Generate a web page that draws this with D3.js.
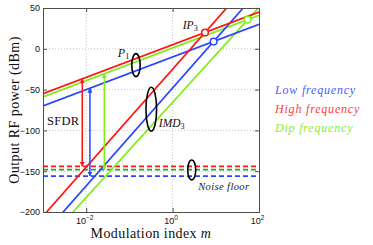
<!DOCTYPE html>
<html><head><meta charset="utf-8">
<script src="https://cdn.jsdelivr.net/npm/d3@7"></script>
<style>body{margin:0;background:#fff}svg{display:block}</style>
</head><body><svg id="c" width="373" height="245"></svg>
<script>
// ---- data ----
const seriesNames = ["Low frequency", "High frequency", "Dip frequency"];
const mEnds = [1e-3, 1e2];                       // m at which the line end values are given
const p1Ends = [[-70, 30], [-55, 45], [-59, 41]];          // fundamental P1 (dBm)
const imd3Ends = [[-228, 72], [-205, 95], [-240.5, 51]];   // IMD3 (dBm)
const noiseFloor = [-156, -144, -148];                      // dBm
const sfdrM = [0.0122, 0.0081, 0.0263];                     // m of SFDR arrows
const xTicks = [1e-2, 1e0, 1e2];
const xTickExp = ["\u22122", "0", "2"];
const yTicks = [-200, -150, -100, -50, 0, 50];
const ellipseAt = [[0.142, -20], [0.321, -74], [2.77, -148.5]];
const labelAt = {P1: [0.054, -10], IP3: [1.72, 24], IMD3: [0.48, -96], noise: [3.9, -173], SFDR: [0.00124, -93]};

// ---- styles ----
const lineColors = ["#2a45ff", "#ff1414", "#7fee12"];
const noiseColors = ["#2a45ff", "#ff1414", "#22a52a"];
const legendColors = ["#4a5cff", "#ff3a3a", "#86ee30"];
const W = 373, H = 245, L = 43, R = 259, T = 8, B = 212;

const svg = d3.select("#c");
const x = d3.scaleLog().domain([1e-3, 1e2]).range([L, R]);
const y = d3.scaleLinear().domain([-200, 50]).range([B, T]);

svg.append("defs").append("clipPath").attr("id", "clip")
  .append("rect").attr("x", L).attr("y", T).attr("width", R - L).attr("height", B - T);

// grid
const grid = svg.append("g").attr("stroke", "#b5b5b5").attr("stroke-width", 0.8).attr("stroke-dasharray", "1,2");
grid.selectAll("line.gx").data(xTicks.filter(d => d > 1e-3 && d < 1e2)).join("line")
  .attr("x1", d => x(d)).attr("x2", d => x(d)).attr("y1", T).attr("y2", B);
grid.selectAll("line.gy").data(yTicks.filter(d => d > -200 && d < 50)).join("line")
  .attr("y1", d => y(d)).attr("y2", d => y(d)).attr("x1", L).attr("x2", R);

const plot = svg.append("g").attr("clip-path", "url(#clip)");

// noise floors
plot.selectAll("line.nf").data(noiseFloor).join("line")
  .attr("x1", L).attr("x2", R).attr("y1", d => y(d)).attr("y2", d => y(d))
  .attr("stroke", (d, i) => noiseColors[i]).attr("stroke-width", 1.8).attr("stroke-dasharray", "5,3");

// lines
const lineGen = d3.line().x(d => x(d[0])).y(d => y(d[1]));
const order = [2, 0, 1];
order.forEach(i => {
  plot.append("path").attr("d", lineGen([[mEnds[0], p1Ends[i][0]], [mEnds[1], p1Ends[i][1]]]))
    .attr("stroke", lineColors[i]).attr("stroke-width", 1.7).attr("fill", "none");
  plot.append("path").attr("d", lineGen([[mEnds[0], imd3Ends[i][0]], [mEnds[1], imd3Ends[i][1]]]))
    .attr("stroke", lineColors[i]).attr("stroke-width", 1.7).attr("fill", "none");
});

// helpers in log space
const lm0 = Math.log10(mEnds[0]), lm1 = Math.log10(mEnds[1]);
const valAt = (ends, m) => ends[0] + (ends[1] - ends[0]) * (Math.log10(m) - lm0) / (lm1 - lm0);

// IP3 circles
order.forEach(i => {
  const s1 = (p1Ends[i][1] - p1Ends[i][0]) / (lm1 - lm0);
  const s3 = (imd3Ends[i][1] - imd3Ends[i][0]) / (lm1 - lm0);
  const lm = lm0 + (p1Ends[i][0] - imd3Ends[i][0]) / (s3 - s1);
  const m = Math.pow(10, lm);
  plot.append("circle").attr("cx", x(m)).attr("cy", y(valAt(p1Ends[i], m))).attr("r", 3.3)
    .attr("fill", "#fff").attr("stroke", lineColors[i]).attr("stroke-width", 1.5);
});

// SFDR arrows
const defs = svg.select("defs");
lineColors.forEach((c, i) => {
  defs.append("marker").attr("id", "ah" + i).attr("viewBox", "0 0 10 10").attr("refX", 9).attr("refY", 5)
    .attr("markerWidth", 5).attr("markerHeight", 5).attr("markerUnits", "userSpaceOnUse").attr("orient", "auto-start-reverse")
    .append("path").attr("d", "M0,0L10,5L0,10z").attr("fill", c);
});
[1, 0, 2].forEach(i => {
  const m = sfdrM[i];
  plot.append("line").attr("x1", x(m)).attr("x2", x(m))
    .attr("y1", y(noiseFloor[i])).attr("y2", y(valAt(p1Ends[i], m)))
    .attr("stroke", lineColors[i]).attr("stroke-width", 1.5)
    .attr("marker-start", `url(#ah${i})`).attr("marker-end", `url(#ah${i})`);
});

// ellipses
const ellR = [[4.2, 11.5], [5.3, 22], [4, 10]];
svg.selectAll("ellipse").data(ellipseAt).join("ellipse")
  .attr("cx", d => x(d[0])).attr("cy", d => y(d[1]))
  .attr("rx", (d, i) => ellR[i][0]).attr("ry", (d, i) => ellR[i][1])
  .attr("fill", "none").attr("stroke", "#000").attr("stroke-width", 1.6);

// annotation labels
const serif = "'Liberation Serif', 'DejaVu Serif', serif";
function subLabel(pos, main, sub, size) {
  const t = svg.append("text").attr("x", x(pos[0])).attr("y", y(pos[1]))
    .attr("font-family", serif).attr("font-style", "italic").attr("font-size", size).attr("fill", "#111");
  t.append("tspan").text(main);
  t.append("tspan").attr("font-size", size * 0.7).attr("font-style", "normal").attr("dy", 2).text(sub);
}
subLabel(labelAt.P1, "P", "1", 12);
subLabel(labelAt.IP3, "IP", "3", 11.5);
subLabel(labelAt.IMD3, "IMD", "3", 11.5);
svg.append("text").attr("x", x(labelAt.noise[0])).attr("y", y(labelAt.noise[1]))
  .attr("font-family", serif).attr("font-style", "italic").attr("font-size", 10.5).attr("letter-spacing", 0.4)
  .attr("fill", "#222").text("Noise floor");
svg.append("text").attr("x", x(labelAt.SFDR[0])).attr("y", y(labelAt.SFDR[1]))
  .attr("font-family", serif).attr("font-size", 12.5).attr("letter-spacing", 0.3).attr("fill", "#111").text("SFDR");

// axes (box with inward ticks)
const sans = "'Liberation Sans', Arial, sans-serif";
const yAx = svg.append("g").attr("transform", `translate(${L},0)`)
  .call(d3.axisLeft(y).tickValues(yTicks).tickSize(-4).tickPadding(3).tickFormat(d => d < 0 ? "\u2212" + Math.abs(d) : d));
const xAx = svg.append("g").attr("transform", `translate(0,${B})`)
  .call(d3.axisBottom(x).tickValues(xTicks).tickSize(-4).tickPadding(6).tickFormat(""));
svg.append("g").attr("transform", `translate(${R},0)`).call(d3.axisRight(y).tickValues(yTicks).tickSize(-4).tickFormat(""));
svg.append("g").attr("transform", `translate(0,${T})`).call(d3.axisTop(x).tickValues(xTicks).tickSize(-4).tickFormat(""));
svg.selectAll(".domain").attr("stroke", "#4d4d4d");
svg.selectAll(".tick line").attr("stroke", "#4d4d4d");
yAx.selectAll("text").attr("font-family", sans).attr("font-size", 9).attr("fill", "#111");
xAx.selectAll(".tick text").each(function (d, i) {
  const t = d3.select(this).attr("font-family", sans).attr("font-size", 9).attr("fill", "#111").attr("dx", "-2");
  t.append("tspan").text("10");
  t.append("tspan").attr("font-size", 6.5).attr("dy", -4).text(xTickExp[i]);
});

// axis titles
svg.append("text").attr("transform", `translate(19,${(T + B) / 2}) rotate(-90)`).attr("text-anchor", "middle")
  .attr("font-family", serif).attr("font-size", 14).attr("letter-spacing", 0.45).attr("fill", "#111")
  .text("Output RF power (dBm)");
const xt = svg.append("text").attr("x", (L + R) / 2).attr("y", 238).attr("text-anchor", "middle")
  .attr("font-family", serif).attr("font-size", 14).attr("letter-spacing", 0.4).attr("fill", "#111");
xt.append("tspan").text("Modulation index ");
xt.append("tspan").attr("font-style", "italic").text("m");

// legend text
const legendOrder = [0, 1, 2];
svg.selectAll("text.leg").data(legendOrder).join("text").attr("class", "leg")
  .attr("x", 275).attr("y", (d, k) => 93.5 + k * 19.2)
  .attr("font-family", serif).attr("font-style", "italic").attr("font-size", 12).attr("letter-spacing", 0.8)
  .attr("fill", d => legendColors[d]).text(d => seriesNames[d]);
</script></body></html>
